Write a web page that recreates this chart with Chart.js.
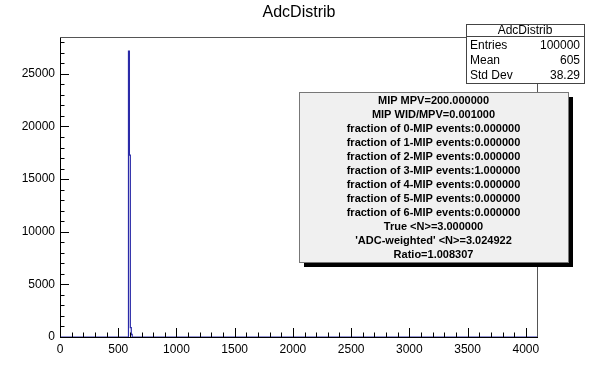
<!DOCTYPE html>
<html>
<head>
<meta charset="utf-8">
<script src="https://cdn.jsdelivr.net/npm/chart.js@4.4.0/dist/chart.umd.min.js"></script>
<style>
  html, body { margin: 0; padding: 0; background: #fff; }
  #c { display: block; }
</style>
</head>
<body>
<canvas id="c" width="598" height="375"></canvas>
<script>
// histogram AdcDistrib (only filled bins, the rest are empty)
const binLowEdges = [588, 596, 604, 612];
const binCounts = [27150, 17280, 900, 250];
const binWidth = 8;
const xRange = [0, 4096];
const yRange = [0, 28500];
const xTickValues = [0, 500, 1000, 1500, 2000, 2500, 3000, 3500, 4000];
const yTickValues = [0, 5000, 10000, 15000, 20000, 25000];

const histTitle = 'AdcDistrib';
const statsRows = [['Entries', '100000'], ['Mean', '605'], ['Std Dev', '38.29']];
const infoLines = [
  'MIP MPV=200.000000',
  'MIP WID/MPV=0.001000',
  'fraction of 0-MIP events:0.000000',
  'fraction of 1-MIP events:0.000000',
  'fraction of 2-MIP events:0.000000',
  'fraction of 3-MIP events:1.000000',
  'fraction of 4-MIP events:0.000000',
  'fraction of 5-MIP events:0.000000',
  'fraction of 6-MIP events:0.000000',
  'True <N>=3.000000',
  "'ADC-weighted' <N>=3.024922",
  'Ratio=1.008307'
];

// контур гистограммы ступеньками
function buildSteps() {
  const pts = [{ x: xRange[0], y: 0 }];
  binLowEdges.forEach((lo, i) => pts.push({ x: lo, y: binCounts[i] }));
  const last = binLowEdges[binLowEdges.length - 1] + binWidth;
  pts.push({ x: last, y: 0 });
  pts.push({ x: xRange[1], y: 0 });
  return pts;
}

const FONT = '"Liberation Sans", Arial, Helvetica, sans-serif';

// рамка, внутренние засечки, заголовок и панели
const rootDecor = {
  id: 'rootDecor',
  afterDraw(chart) {
    const ctx = chart.ctx;
    const a = chart.chartArea;
    const xs = chart.scales.x, ys = chart.scales.y;
    ctx.save();

    // рамка
    ctx.strokeStyle = '#555';
    ctx.lineWidth = 1;
    ctx.beginPath();
    ctx.moveTo(a.left, a.top + 0.5);
    ctx.lineTo(a.right + 0.5, a.top + 0.5);
    ctx.lineTo(a.right + 0.5, a.bottom);
    ctx.stroke();

    // засечки
    ctx.strokeStyle = '#000';
    ctx.beginPath();
    for (let v = 0; v <= xRange[1]; v += 100) {
      const px = Math.round(xs.getPixelForValue(v)) + 0.5;
      const len = v % 500 === 0 ? 9 : 4.5;
      ctx.moveTo(px, a.bottom);
      ctx.lineTo(px, a.bottom - len);
    }
    for (let v = 0; v <= yRange[1]; v += 1000) {
      const py = Math.round(ys.getPixelForValue(v)) + 0.5;
      const len = v % 5000 === 0 ? 9 : 4.5;
      ctx.moveTo(a.left, py);
      ctx.lineTo(a.left + len, py);
    }
    ctx.stroke();

    // заголовок
    ctx.fillStyle = '#000';
    ctx.font = '16px ' + FONT;
    ctx.textAlign = 'center';
    ctx.textBaseline = 'middle';
    ctx.fillText(histTitle, 299, 13);

    // статистика
    const sx = 466, sy = 24, sw = 118, sh = 59;
    ctx.fillStyle = '#444';
    ctx.fillRect(sx + 1, sy + 1, sw, sh);
    ctx.fillStyle = '#fff';
    ctx.fillRect(sx, sy, sw, sh);
    ctx.strokeStyle = '#444';
    ctx.strokeRect(sx + 0.5, sy + 0.5, sw, sh);
    ctx.beginPath();
    ctx.moveTo(sx, sy + 12.5);
    ctx.lineTo(sx + sw, sy + 12.5);
    ctx.stroke();
    ctx.fillStyle = '#000';
    ctx.font = '12px ' + FONT;
    ctx.textAlign = 'center';
    ctx.fillText(histTitle, sx + sw / 2, sy + 7);
    statsRows.forEach((r, i) => {
      const ty = sy + 22 + i * 15;
      ctx.textAlign = 'left';
      ctx.fillText(r[0], sx + 4, ty);
      ctx.textAlign = 'right';
      ctx.fillText(r[1], sx + sw - 4, ty);
    });

    // панель с текстом
    const bx = 299, by = 92, bw = 269, bh = 170;
    ctx.fillStyle = '#000';
    ctx.fillRect(bx + 5, by + 5, bw, bh);
    ctx.fillStyle = '#f0f0f0';
    ctx.fillRect(bx, by, bw, bh);
    ctx.strokeStyle = '#777';
    ctx.strokeRect(bx + 0.5, by + 0.5, bw, bh);
    ctx.fillStyle = '#000';
    ctx.font = 'bold 11px ' + FONT;
    ctx.textAlign = 'center';
    infoLines.forEach((t, i) => {
      ctx.fillText(t, bx + bw / 2, 101 + i * 14);
    });

    ctx.restore();
  }
};

new Chart(document.getElementById('c'), {
  type: 'line',
  data: {
    datasets: [{
      label: histTitle,
      data: buildSteps(),
      stepped: 'before',
      borderColor: '#2a2aa8',
      borderWidth: 1.2,
      pointRadius: 0,
      fill: false
    }]
  },
  options: {
    responsive: false,
    animation: false,
    devicePixelRatio: 1,
    layout: { padding: { left: 0, top: 37, right: 61, bottom: 0 } },
    plugins: {
      legend: { display: false },
      tooltip: { enabled: false },
      title: { display: false }
    },
    scales: {
      x: {
        type: 'linear',
        min: xRange[0],
        max: xRange[1],
        grid: { display: false, drawTicks: false },
        border: { display: true, color: '#000', width: 1 },
        afterBuildTicks: s => { s.ticks = xTickValues.map(v => ({ value: v })); },
        ticks: {
          maxRotation: 0,
          autoSkip: false,
          padding: 5,
          color: '#000',
          font: { family: FONT, size: 12 },
          callback: v => String(v)
        },
        afterFit: s => { s.height = 38; }
      },
      y: {
        min: yRange[0],
        max: yRange[1],
        grid: { display: false, drawTicks: false },
        border: { display: true, color: '#000', width: 1 },
        afterBuildTicks: s => { s.ticks = yTickValues.map(v => ({ value: v })); },
        ticks: {
          autoSkip: false,
          padding: 5,
          color: '#000',
          font: { family: FONT, size: 12 },
          callback: v => String(v)
        },
        afterFit: s => { s.width = 60; }
      }
    }
  },
  plugins: [rootDecor]
});
</script>
</body>
</html>
